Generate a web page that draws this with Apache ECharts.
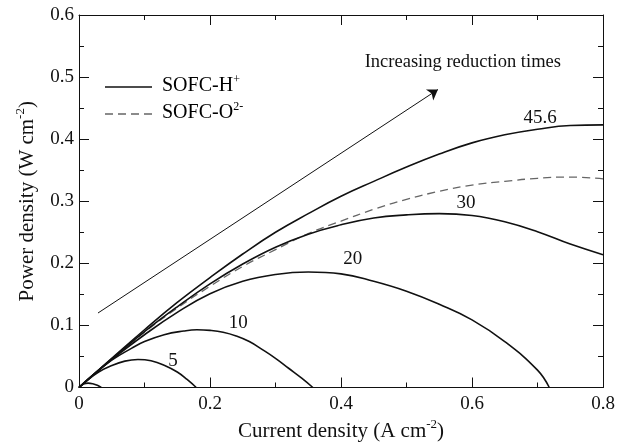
<!DOCTYPE html>
<html><head><meta charset="utf-8">
<script src="https://cdn.jsdelivr.net/npm/echarts@6/dist/echarts.min.js"></script>
<style>html,body{margin:0;padding:0;background:#fff}#c{width:625px;height:442px}</style>
</head><body><div id="c"></div>
<script>
// ---- data ----
const xMain = [0,0.05,0.1,0.15,0.2,0.25,0.3,0.35,0.4,0.45,0.5,0.55,0.6,0.65,0.7,0.75,0.8];
const p45_6 = [0,0.047,0.093,0.137,0.177,0.215,0.250,0.280,0.308,0.332,0.355,0.376,0.394,0.407,0.416,0.422,0.423];
const p30   = [0,0.046,0.090,0.130,0.167,0.199,0.226,0.247,0.262,0.273,0.278,0.280,0.277,0.267,0.251,0.231,0.214];
const pO2   = [0,0.046,0.089,0.128,0.163,0.195,0.222,0.248,0.268,0.287,0.303,0.316,0.326,0.332,0.337,0.339,0.336];
const x20 = [0,0.05,0.1,0.15,0.2,0.25,0.3,0.35,0.4,0.45,0.5,0.55,0.6,0.65,0.7,0.718];
const p20 = [0,0.045,0.085,0.121,0.151,0.171,0.182,0.186,0.183,0.171,0.155,0.134,0.109,0.074,0.028,0];
const x10 = [0,0.02,0.05,0.08,0.1,0.13,0.16,0.18,0.2,0.22,0.24,0.26,0.28,0.3,0.32,0.34,0.357];
const p10 = [0,0.019,0.044,0.063,0.074,0.085,0.091,0.093,0.092,0.089,0.083,0.074,0.061,0.047,0.031,0.015,0];
const x5 = [0,0.01,0.03,0.05,0.07,0.09,0.11,0.13,0.15,0.165,0.179];
const p5 = [0,0.0095,0.025,0.0355,0.0425,0.045,0.043,0.036,0.025,0.013,0];
const xTiny = [0,0.007,0.014,0.021,0.028,0.034];
const pTiny = [0,0.0055,0.007,0.006,0.0035,0];
const curveLabels = ['45.6','30','20','10','5'];
const labelAt = [[0.704,0.434],[0.591,0.297],[0.418,0.207],[0.243,0.104],[0.1435,0.043]];
const arrowFrom = [0.029,0.12], arrowTo = [0.548,0.48];
const noteText = 'Increasing reduction times';
const noteAt = [0.586,0.524];
const xTickLabels = ['0','0.2','0.4','0.6','0.8'];
const legendNames = ['SOFC-H+', 'SOFC-O2-'];

const zip = (xs, ys) => xs.map((x,i)=>[x, ys[i]]);
const FONT = 'Liberation Serif';
const INK = '#111';
const DASH = '#666';

function solid(xs, ys, extra) {
  return Object.assign({
    type:'line', name:legendNames[0], data: zip(xs, ys), symbol:'none', smooth:0.45,
    lineStyle:{color:INK, width:1.6}, itemStyle:{color:INK}, silent:true, z:3
  }, extra||{});
}
function tag(i) {
  return {
    symbol:'circle', symbolSize:1, itemStyle:{color:'rgba(0,0,0,0)'}, silent:true,
    label:{show:true, position:'inside', formatter: curveLabels[i], color:INK, fontFamily:FONT, fontSize:19},
    data:[{coord: labelAt[i]}]
  };
}

function axisBase() {
  return {
    type:'value', min:0,
    axisLine:{show:true, onZero:false, lineStyle:{color:INK, width:1}},
    axisTick:{show:true, inside:true, length:10, lineStyle:{color:INK}},
    minorTick:{show:true, splitNumber:2, length:5, lineStyle:{color:INK}},
    splitLine:{show:false}, minorSplitLine:{show:false}
  };
}
const nameRich = {
  a:{fontFamily:FONT, fontSize:21, color:INK},
  b:{fontFamily:FONT, fontSize:13, color:INK, padding:[0,0,13,0]}
};
const legRich = {
  a:{fontFamily:FONT, fontSize:20, color:INK},
  b:{fontFamily:FONT, fontSize:12, color:INK, padding:[0,0,12,0]}
};

const option = {
  animation:false,
  backgroundColor:'#fff',
  grid:{left:79, right:22, top:15, bottom:54.5, outerBoundsMode:'none', containLabel:false},
  graphic:[
    {type:'line', shape:{x1:105, y1:87, x2:152, y2:87}, style:{stroke:INK, lineWidth:1.3}},
    {type:'line', shape:{x1:105, y1:114, x2:152, y2:114}, style:{stroke:DASH, lineWidth:1.3, lineDash:[8,5]}},
    {type:'text', left:162, top:74, style:{text:'{a|SOFC-H}{b|+}', rich:legRich}},
    {type:'text', left:162, top:101, style:{text:'{a|SOFC-O}{b|2-}', rich:legRich}}
  ],
  xAxis:[
    Object.assign(axisBase(), {max:0.8, interval:0.2, position:'bottom',
      axisLabel:{color:INK, fontFamily:FONT, fontSize:19, margin:7, formatter:(v)=>xTickLabels[Math.round(v/0.2)]},
      name:'{a|Current density (A cm}{b|-2}{a|)}', nameLocation:'middle', nameGap:28,
      nameTextStyle:{rich:nameRich}}),
    Object.assign(axisBase(), {max:0.8, interval:0.2, position:'top', axisLabel:{show:false}})
  ],
  yAxis:[
    Object.assign(axisBase(), {max:0.6, interval:0.1, position:'left',
      axisLabel:{color:INK, fontFamily:FONT, fontSize:19, margin:5, formatter:v=> v===0?'0':v.toFixed(1)},
      name:'{a|Power density (W cm}{b|-2}{a|)}', nameLocation:'middle', nameGap:39,
      nameTextStyle:{rich:nameRich}}),
    Object.assign(axisBase(), {max:0.6, interval:0.1, position:'right', axisLabel:{show:false}})
  ],
  series:[
    solid(xMain, p45_6, {markPoint: tag(0),
      markLine:{silent:true, symbol:['none','arrow'], symbolSize:10,
        lineStyle:{color:INK, width:1, type:'solid'}, label:{show:false},
        data:[[{coord:arrowFrom},{coord:arrowTo}]]}}),
    solid(xMain, p30, {markPoint: tag(1)}),
    {type:'line', name:legendNames[1], data: zip(xMain, pO2), symbol:'none', smooth:0.45, silent:true,
      lineStyle:{color:DASH, width:1.3, type:[8,5]}, itemStyle:{color:DASH}, z:2,
      markPoint:{symbol:'circle', symbolSize:1, itemStyle:{color:'rgba(0,0,0,0)'}, silent:true,
        label:{show:true, position:'inside', formatter: noteText, color:INK, fontFamily:FONT, fontSize:18.5},
        data:[{coord: noteAt}]}},
    solid(x20, p20, {markPoint: tag(2)}),
    solid(x10, p10, {markPoint: tag(3)}),
    solid(x5, p5, {markPoint: tag(4)}),
    solid(xTiny, pTiny)
  ]
};
echarts.init(document.getElementById('c')).setOption(option);
</script>
</body></html>
